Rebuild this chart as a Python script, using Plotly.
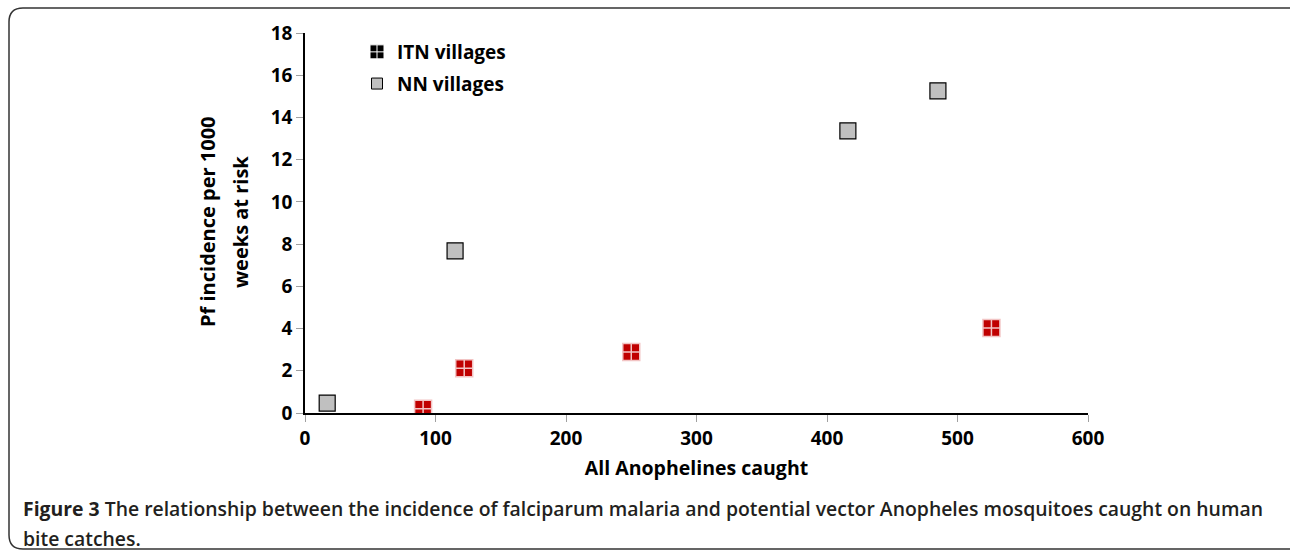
import plotly.graph_objects as go

itn_x = [90.5, 122, 250, 526]
itn_y = [0.2, 2.12, 2.89, 4.03]
nn_x = [17, 115, 416, 485]
nn_y = [0.47, 7.68, 13.36, 15.26]

x_ticks = [0, 100, 200, 300, 400, 500, 600]
y_ticks = [0, 2, 4, 6, 8, 10, 12, 14, 16, 18]

y_title_lines = ["Pf incidence per 1000", "weeks at risk"]
caption_lines = [
    "<b>Figure 3</b> The relationship between the incidence of falciparum malaria and potential vector Anopheles mosquitoes caught on human",
    "bite catches.",
]

FONT = "Open Sans"
L, R, T, B = 305, 202, 33, 142
W, H = 1290, 555
pw, ph = W - L - R, H - T - B


def px_x(p):
    return (p - L) / pw


def px_y(p):
    return (H - B - p) / ph


fig = go.Figure()
fig.add_trace(go.Scatter(
    x=itn_x, y=itn_y, mode="markers", showlegend=False,
    marker=dict(symbol="square-cross", size=17, color="#c00000",
                line=dict(color="#f2c4c4", width=1.5))))
fig.add_trace(go.Scatter(
    x=nn_x, y=nn_y, mode="markers", showlegend=False,
    marker=dict(symbol="square", size=16, color="#c0c0c0",
                line=dict(color="#000000", width=1.2))))
# legend entries
fig.add_trace(go.Scatter(
    x=[None], y=[None], mode="markers", name="ITN villages", legendgroup="a",
    marker=dict(symbol="square-cross", size=14, color="#000000",
                line=dict(color="#ffffff", width=1))))
fig.add_trace(go.Scatter(
    x=[None], y=[None], mode="markers", name="NN villages", legendgroup="b",
    marker=dict(symbol="square", size=11, color="#c0c0c0",
                line=dict(color="#000000", width=1))))

fig.update_layout(
    width=W, height=H,
    margin=dict(l=L, r=R, t=T, b=B),
    paper_bgcolor="white", plot_bgcolor="white",
    font=dict(family=FONT, color="#000000"),
    legend=dict(x=px_x(357), y=1.0, xanchor="left", yanchor="top",
                bgcolor="rgba(0,0,0,0)", itemwidth=30, tracegroupgap=4,
                traceorder="grouped",
                font=dict(size=19, family=FONT, weight="bold")),
    xaxis=dict(range=[0, 600], tickvals=x_ticks, showgrid=False, zeroline=False,
               showline=True, linecolor="#000000", linewidth=1.5,
               ticks="outside", ticklen=7, tickcolor="#a0a0a0",
               tickfont=dict(size=19, family=FONT, weight="bold"),
               title=dict(text="All Anophelines caught", standoff=12,
                          font=dict(size=19.5, family=FONT, weight="bold"))),
    yaxis=dict(range=[0, 18], tickvals=y_ticks, showgrid=False, zeroline=False,
               showline=True, linecolor="#000000", linewidth=1.5,
               ticks="outside", ticklen=7, tickcolor="#a0a0a0",
               tickfont=dict(size=19, family=FONT, weight="bold")),
)

# y-axis title, two rotated lines
for text, xc in zip(y_title_lines, [207, 240]):
    fig.add_annotation(
        xref="paper", yref="paper", x=px_x(xc), y=px_y(222),
        xanchor="center", yanchor="middle", textangle=-90, showarrow=False,
        text=text, font=dict(size=20, family=FONT, weight="bold", color="#000000"))

# rounded frame around figure (pixel coordinates relative to plot origin)
x0, x1 = 9 - L, W + 10 - L
ytop, ybot = (H - B) - 8, (H - B) - 549
r = 14
path = (f"M {x1},{ytop} L {x0 + r},{ytop} Q {x0},{ytop} {x0},{ytop - r} "
        f"L {x0},{ybot + r} Q {x0},{ybot} {x0 + r},{ybot} L {x1},{ybot}")
fig.add_shape(type="path", xref="paper", yref="paper", xsizemode="pixel",
              ysizemode="pixel", xanchor=0, yanchor=0, path=path,
              line=dict(color="#333333", width=1.5))

for text, yc in zip(caption_lines, [509, 538]):
    fig.add_annotation(
        xref="paper", yref="paper", x=px_x(21), y=px_y(yc),
        xanchor="left", yanchor="middle", align="left", showarrow=False,
        text=text,
        font=dict(size=19.4, family=FONT, weight=600, color="#231f20"))

fig.write_html("out.html", config={"displayModeBar": False},
               post_script="document.body.style.margin='0';")
